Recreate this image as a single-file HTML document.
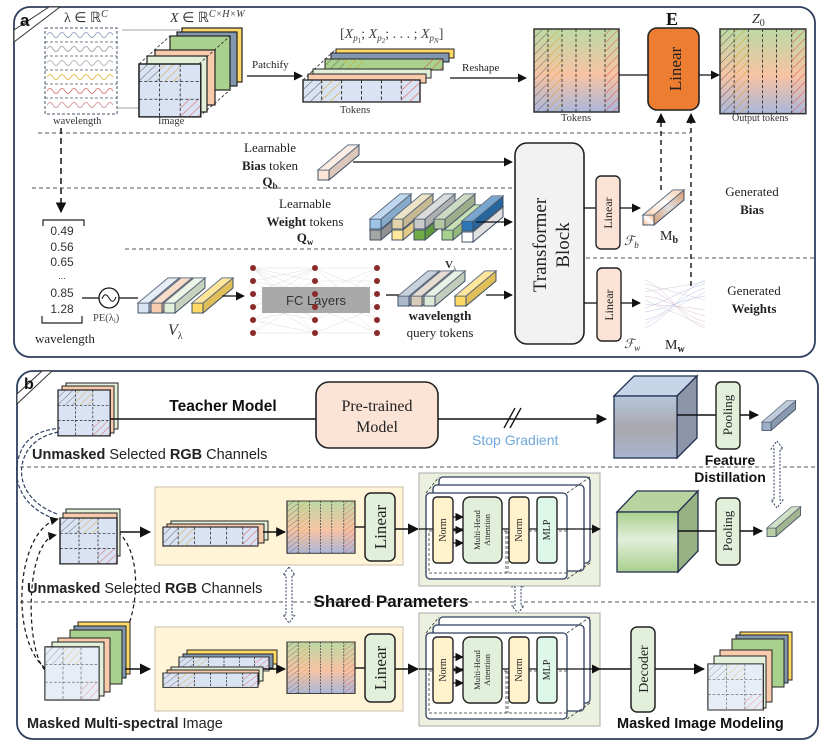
<!DOCTYPE html>
<html><head><meta charset="utf-8"><style>
html,body{margin:0;padding:0;background:#fff}
svg{display:block}
.s{font-family:"Liberation Serif",serif}
.a{font-family:"Liberation Sans",sans-serif}
</style></head><body>
<svg width="831" height="748" viewBox="0 0 831 748" xmlns="http://www.w3.org/2000/svg">
<defs>
<pattern id="hg" width="6" height="6" patternUnits="userSpaceOnUse" patternTransform="rotate(45)"><line x1="0" y1="0" x2="0" y2="6" stroke="#555" stroke-width="0.9"/></pattern>
<pattern id="hy" width="6" height="6" patternUnits="userSpaceOnUse" patternTransform="rotate(45)"><line x1="0" y1="0" x2="0" y2="6" stroke="#d4a017" stroke-width="0.9"/></pattern>
<pattern id="hr" width="6" height="6" patternUnits="userSpaceOnUse" patternTransform="rotate(45)"><line x1="0" y1="0" x2="0" y2="6" stroke="#e04848" stroke-width="0.9"/></pattern>
<linearGradient id="tg" x1="0" y1="0" x2="0" y2="1"><stop offset="0" stop-color="#bcd9a4"/><stop offset="0.55" stop-color="#f7c3a3"/><stop offset="1" stop-color="#aab7db"/></linearGradient>
<linearGradient id="cubeB" x1="0" y1="0" x2="0" y2="1"><stop offset="0" stop-color="#b4c6dc"/><stop offset="0.5" stop-color="#a8a8ac"/><stop offset="1" stop-color="#a9b4d0"/></linearGradient>
<linearGradient id="cubeG" x1="0" y1="0" x2="0" y2="1"><stop offset="0" stop-color="#a9d08e"/><stop offset="0.45" stop-color="#e2efda"/><stop offset="1" stop-color="#a9d08e"/></linearGradient>
<linearGradient id="orb" x1="0" y1="1" x2="1" y2="0"><stop offset="0" stop-color="#f4b183"/><stop offset="0.5" stop-color="#fff"/><stop offset="1" stop-color="#f4b183"/></linearGradient>
<marker id="ar" viewBox="0 0 10 10" refX="9" refY="5" markerWidth="7" markerHeight="7" orient="auto"><path d="M0,0L10,5L0,10z" fill="#111"/></marker>
<g id="tok">
<rect x="0" y="0" width="85" height="83" fill="url(#tg)"/>
<rect x="0" y="0" width="14" height="83" fill="url(#hg)"/>
<rect x="14" y="0" width="14" height="83" fill="url(#hy)"/>
<rect x="71" y="0" width="14" height="83" fill="url(#hr)"/>
<g stroke="#222" stroke-dasharray="3,2" stroke-width="0.8"><line x1="14" y1="0" x2="14" y2="83"/><line x1="28" y1="0" x2="28" y2="83"/><line x1="42" y1="0" x2="42" y2="83"/><line x1="56" y1="0" x2="56" y2="83"/><line x1="71" y1="0" x2="71" y2="83"/></g>
<rect x="0" y="0" width="85" height="83" fill="none" stroke="#333" stroke-width="1.5"/>
</g>
<g id="face">
<rect x="0" y="0" width="60" height="54" fill="#dae3f3" stroke="#222" stroke-width="1.3"/>
<rect x="0" y="0" width="20" height="18" fill="url(#hg)"/>
<rect x="20" y="0" width="20" height="18" fill="url(#hy)"/>
<rect x="40" y="36" width="20" height="18" fill="url(#hr)"/>
<g stroke="#222" stroke-dasharray="3,2" stroke-width="0.8"><line x1="20" y1="0" x2="20" y2="54"/><line x1="40" y1="0" x2="40" y2="54"/><line x1="0" y1="18" x2="60" y2="18"/><line x1="0" y1="36" x2="60" y2="36"/></g>
<rect x="0" y="0" width="60" height="54" fill="none" stroke="#222" stroke-width="1.3"/>
</g>
<g id="row">
<rect x="0" y="0" width="100" height="20" fill="#dae3f3" stroke="#222" stroke-width="1.2"/>
<rect x="0" y="0" width="16" height="20" fill="url(#hg)"/>
<rect x="16" y="0" width="16" height="20" fill="url(#hy)"/>
<rect x="84" y="0" width="16" height="20" fill="url(#hr)"/>
<g stroke="#222" stroke-dasharray="3,2" stroke-width="0.8"><line x1="16" y1="0" x2="16" y2="20"/><line x1="33" y1="0" x2="33" y2="20"/><line x1="50" y1="0" x2="50" y2="20"/><line x1="67" y1="0" x2="67" y2="20"/><line x1="84" y1="0" x2="84" y2="20"/></g>
</g>
<g id="bar" stroke="#44546a" stroke-width="1">
<polygon points="0,0 30,-25 41,-25 11,0"/>
<polygon points="11,0 41,-25 41,-15 11,10"/>
<rect x="0" y="0" width="11" height="10"/>
<polygon points="0,0 30,-25 41,-25 11,0" fill="#fff" fill-opacity="0.35" stroke="none"/>
<polygon points="11,0 41,-25 41,-15 11,10" fill="#000" fill-opacity="0.12" stroke="none"/>
</g>
<g id="tb">
<rect x="0" y="0" width="181" height="113" fill="#ebf1de" stroke="#aaa" stroke-width="1"/>
<rect x="20" y="4" width="151" height="86" rx="4" fill="#fff" stroke="#2f3f5f" stroke-width="1.3"/>
<rect x="14" y="12" width="151" height="86" rx="4" fill="#fff" stroke="#2f3f5f" stroke-width="1.3"/>
<rect x="7" y="20" width="141" height="86" rx="4" fill="#fff" stroke="#2f3f5f" stroke-width="1.3"/>
<g stroke="#333" stroke-dasharray="3,2" stroke-width="0.8" fill="none"><line x1="7" y1="20" x2="20" y2="4"/><line x1="148" y1="20" x2="171" y2="4"/><line x1="148" y1="106" x2="171" y2="90"/><rect x="10" y="58" width="138" height="42"/><line x1="87" y1="58" x2="87" y2="100"/><line x1="89" y1="58" x2="89" y2="100"/></g>
<line x1="0" y1="56" x2="181" y2="56" stroke="#111" stroke-width="1.3" marker-end="url(#ar)"/>
<rect x="14" y="24" width="20" height="66" rx="4" fill="#fff2cc" stroke="#222" stroke-width="1.4"/>
<rect x="44" y="24" width="39" height="66" rx="7" fill="#e2efda" stroke="#222" stroke-width="1.4"/>
<rect x="90" y="24" width="20" height="66" rx="4" fill="#fff2cc" stroke="#222" stroke-width="1.4"/>
<rect x="118" y="24" width="20" height="66" rx="4" fill="#ddf7e9" stroke="#222" stroke-width="1.4"/>
<g stroke="#111" stroke-width="1.2" marker-end="url(#ar)"><line x1="34" y1="44" x2="44" y2="44"/><line x1="34" y1="57" x2="44" y2="57"/><line x1="34" y1="70" x2="44" y2="70"/></g>
<g class="s" font-size="10" fill="#222" text-anchor="middle">
<text transform="translate(27,57) rotate(-90)">Norm</text>
<text transform="translate(61,57) rotate(-90)" font-size="8.5">Multi-Head</text>
<text transform="translate(71,57) rotate(-90)" font-size="8.5">Attention</text>
<text transform="translate(103,57) rotate(-90)">Norm</text>
<text transform="translate(131,57) rotate(-90)">MLP</text>
</g>
</g>
</defs>

<rect x="14" y="7" width="801" height="350" rx="16" fill="#fff" stroke="#2f3f5f" stroke-width="1.8"/>
<polygon points="14,42 14,30 49,7 60,7" fill="#fff" stroke="#333" stroke-width="1"/>
<text x="20" y="26" class="a" font-size="17" font-weight="bold" fill="#111">a</text>

<text x="64" y="22" class="s" font-size="14" fill="#333">λ ∈ ℝ<tspan dy="-5" font-size="10" font-style="italic">C</tspan></text>
<text x="170" y="22" class="s" font-size="14" font-style="italic" fill="#333">X <tspan font-style="normal">∈ ℝ</tspan><tspan dy="-5" font-size="10">C×H×W</tspan></text>
<rect x="45" y="28" width="72" height="86" fill="none" stroke="#44546a" stroke-dasharray="3,2"/>
<g stroke="#44546a" stroke-dasharray="3,2" stroke-width="0.8"><line x1="45" y1="42" x2="117" y2="42"/><line x1="45" y1="56" x2="117" y2="56"/><line x1="45" y1="70" x2="117" y2="70"/><line x1="45" y1="84" x2="117" y2="84"/><line x1="45" y1="98" x2="117" y2="98"/></g>
<g fill="none" stroke-width="0.8">
<path d="M47,35 q3,-5 6,0 t6,0 t6,0 t6,0 t6,0 t6,0 t6,0 t6,0 t6,0 t6,0 t6,0" stroke="#8497b0"/>
<path d="M47,49 q3,-5 6,0 t6,0 t6,0 t6,0 t6,0 t6,0 t6,0 t6,0 t6,0 t6,0 t6,0" stroke="#999"/>
<path d="M47,63 q3,-5 6,0 t6,0 t6,0 t6,0 t6,0 t6,0 t6,0 t6,0 t6,0 t6,0 t6,0" stroke="#a9a9a9"/>
<path d="M47,77 q3,-5 6,0 t6,0 t6,0 t6,0 t6,0 t6,0 t6,0 t6,0 t6,0 t6,0 t6,0" stroke="#e2b33a"/>
<path d="M47,91 q3,-5 6,0 t6,0 t6,0 t6,0 t6,0 t6,0 t6,0 t6,0 t6,0 t6,0 t6,0" stroke="#d06a6a"/>
<path d="M47,105 q3,-5 6,0 t6,0 t6,0 t6,0 t6,0 t6,0 t6,0 t6,0 t6,0 t6,0 t6,0" stroke="#d08a8a"/>
</g>
<text x="53" y="124" class="s" font-size="10.5" fill="#333">wavelength</text>
<line x1="122" y1="30" x2="180" y2="30" stroke="#888" stroke-width="0.7"/>
<line x1="118" y1="108" x2="139" y2="108" stroke="#888" stroke-width="0.7"/>
<rect x="182" y="28" width="60" height="54" fill="#ffd966" stroke="#222" stroke-width="1.2"/>
<rect x="177" y="32" width="60" height="54" fill="#8497b0" stroke="#222" stroke-width="1.2"/>
<rect x="170" y="36" width="60" height="54" fill="#a9d18e" stroke="#222" stroke-width="1.2"/>
<rect x="155" y="50" width="60" height="55" fill="#f8cbad" stroke="#222" stroke-width="1.2"/>
<rect x="147" y="56" width="60" height="56" fill="#e2f0d9" stroke="#222" stroke-width="1.2"/>
<g stroke="#222" stroke-dasharray="3,2" stroke-width="0.8"><line x1="139" y1="64" x2="170" y2="36"/><line x1="199" y1="64" x2="230" y2="36"/><line x1="199" y1="117" x2="230" y2="90"/></g>
<g transform="translate(139,64) scale(1.03,0.98)"><use href="#face"/></g>
<text x="158" y="124" class="s" font-size="10.5" fill="#333">Image</text>
<text x="252" y="68" class="s" font-size="11" fill="#222">Patchify</text>
<line x1="247" y1="76" x2="302" y2="76" stroke="#111" stroke-width="1.3" marker-end="url(#ar)"/>
<rect x="336" y="49" width="118" height="9" fill="#ffd966" stroke="#222"/>
<rect x="331" y="53" width="118" height="9" fill="#8497b0" stroke="#222"/>
<rect x="325" y="59" width="118" height="11" fill="#a9d18e" stroke="#222"/>
<rect x="325" y="59" width="19" height="11" fill="url(#hg)"/><rect x="344" y="59" width="19" height="11" fill="url(#hy)"/><rect x="424" y="59" width="19" height="11" fill="url(#hr)"/>
<rect x="313" y="69" width="118" height="9" fill="#e2f0d9" stroke="#222"/>
<rect x="308" y="74" width="118" height="9" fill="#f8cbad" stroke="#222"/>
<g stroke="#222" stroke-dasharray="3,2" stroke-width="0.8"><line x1="303" y1="80" x2="336" y2="49"/></g>
<g transform="translate(303,80) scale(1.17,1.1)"><use href="#row"/></g>
<text x="340" y="113" class="s" font-size="10.5" fill="#333">Tokens</text>
<text x="340" y="38" class="s" font-size="14" fill="#444">[<tspan font-style="italic">X</tspan><tspan font-size="9" dy="3" font-style="italic">p</tspan><tspan font-size="7" dy="2">1</tspan><tspan dy="-5">; </tspan><tspan font-style="italic">X</tspan><tspan font-size="9" dy="3" font-style="italic">p</tspan><tspan font-size="7" dy="2">2</tspan><tspan dy="-5">; . . . ; </tspan><tspan font-style="italic">X</tspan><tspan font-size="9" dy="3" font-style="italic">p</tspan><tspan font-size="7" dy="2" font-style="italic">N</tspan><tspan dy="-5">]</tspan></text>
<text x="462" y="71" class="s" font-size="11" fill="#222">Reshape</text>
<line x1="450" y1="78" x2="526" y2="78" stroke="#111" stroke-width="1.3" marker-end="url(#ar)"/>
<g transform="translate(534,29)"><use href="#tok"/></g>
<text x="561" y="121" class="s" font-size="10.5" fill="#333">Tokens</text>
<line x1="619" y1="75" x2="648" y2="75" stroke="#111" stroke-width="1.3"/>
<rect x="648" y="28" width="51" height="82" rx="9" fill="#ed7d31" stroke="#222" stroke-width="1.6"/>
<text transform="translate(681,69) rotate(-90)" text-anchor="middle" class="s" font-size="17" fill="#222">Linear</text>
<text x="666" y="25" class="s" font-size="18" font-weight="bold" fill="#111">E</text>
<line x1="699" y1="75" x2="719" y2="75" stroke="#111" stroke-width="1.3" marker-end="url(#ar)"/>
<g transform="translate(720,29) scale(1.01,1.02)"><use href="#tok"/></g>
<text x="752" y="23" class="s" font-size="14" font-style="italic" fill="#333">Z<tspan font-style="normal" font-size="10" dy="3">0</tspan></text>
<text x="732" y="121" class="s" font-size="10" fill="#333">Output tokens</text>

<g stroke="#555" stroke-dasharray="4,3" stroke-width="0.9">
<line x1="38" y1="133" x2="690" y2="133"/>
<line x1="32" y1="188" x2="512" y2="188"/>
<line x1="125" y1="249" x2="512" y2="249"/>
<line x1="586" y1="258" x2="814" y2="258"/>
</g>
<line x1="61" y1="128" x2="61" y2="212" stroke="#111" stroke-width="1.5" stroke-dasharray="6,4" marker-end="url(#ar)"/>
<text x="270" y="152" text-anchor="middle" class="s" font-size="13" fill="#222">Learnable</text>
<text x="270" y="170" text-anchor="middle" class="s" font-size="13" fill="#222"><tspan font-weight="bold">Bias</tspan> token</text>
<text x="270" y="186" text-anchor="middle" class="s" font-size="13" font-weight="bold" fill="#222">Q<tspan font-size="9" dy="3">b</tspan></text>
<g transform="translate(318,170)" fill="#fbe3d6"><use href="#bar"/></g>
<line x1="353" y1="162" x2="512" y2="162" stroke="#111" stroke-width="1.3" marker-end="url(#ar)"/>
<text x="305" y="208" text-anchor="middle" class="s" font-size="13" fill="#222">Learnable</text>
<text x="305" y="226" text-anchor="middle" class="s" font-size="13" fill="#222"><tspan font-weight="bold">Weight</tspan> tokens</text>
<text x="305" y="242" text-anchor="middle" class="s" font-size="13" font-weight="bold" fill="#222">Q<tspan font-size="9" dy="3">w</tspan></text>
<g transform="translate(370,230)" fill="#a5a5a5"><use href="#bar"/></g>
<g transform="translate(392,230)" fill="#ffe699"><use href="#bar"/></g>
<g transform="translate(414,230)" fill="#70ad47"><use href="#bar"/></g>
<g transform="translate(442,230)" fill="#a9d18e"><use href="#bar"/></g>
<g transform="translate(462,232)" fill="#ffffff"><use href="#bar"/></g>
<g transform="translate(370,219)" fill="#9dc3e6"><use href="#bar"/></g>
<g transform="translate(392,219)" fill="#e2d3a8"><use href="#bar"/></g>
<g transform="translate(414,219)" fill="#c9c9c9"><use href="#bar"/></g>
<g transform="translate(434,219)" fill="#b4c7a0"><use href="#bar"/></g>
<g transform="translate(462,221)" fill="#2e75b6"><use href="#bar"/></g>
<line x1="476" y1="222" x2="512" y2="222" stroke="#111" stroke-width="1.3" marker-end="url(#ar)"/>
<path d="M43,226 V220 H84 V226" fill="none" stroke="#222" stroke-width="1.2"/>
<g class="a" font-size="12" fill="#333" text-anchor="middle">
<text x="62" y="235">0.49</text><text x="62" y="251">0.56</text><text x="62" y="266">0.65</text><text x="62" y="279" font-size="9">...</text><text x="62" y="297">0.85</text><text x="62" y="313">1.28</text>
</g>
<path d="M42,316 V323 H82 V316" fill="none" stroke="#222" stroke-width="1.2"/>
<text x="35" y="343" class="s" font-size="13" fill="#222">wavelength</text>
<line x1="82" y1="298" x2="100" y2="298" stroke="#111" stroke-width="1.3"/>
<circle cx="109" cy="298" r="10" fill="#fff" stroke="#111" stroke-width="1.3"/>
<path d="M102,299 q3,-8 7,-1 t7,-1" fill="none" stroke="#111" stroke-width="1"/>
<line x1="119" y1="298" x2="138" y2="298" stroke="#111" stroke-width="1.3"/>
<text x="93" y="321" class="s" font-size="10.5" fill="#444">PE(λ<tspan font-size="7" dy="2">i</tspan><tspan dy="-2">)</tspan></text>
<g transform="translate(138,303)" fill="#dae3f3"><use href="#bar"/></g>
<g transform="translate(151,303)" fill="#f8cbad"><use href="#bar"/></g>
<g transform="translate(164,303)" fill="#e2f0d9"><use href="#bar"/></g>
<g transform="translate(192,303)" fill="#ffd966"><use href="#bar"/></g>
<line x1="222" y1="296" x2="244" y2="296" stroke="#111" stroke-width="1.3" marker-end="url(#ar)"/>
<text x="168" y="335" class="s" font-size="16" font-style="italic" fill="#333">V<tspan font-size="10" dy="4" font-style="normal">λ</tspan></text>
<g stroke="#ddd" stroke-width="0.5">
<path d="M253,268L315,268M253,268L315,281M253,268L315,294M253,268L315,307M253,268L315,320M253,268L315,333M253,281L315,268M253,281L315,294M253,281L315,320M253,294L315,268M253,294L315,307M253,294L315,333M253,307L315,268M253,307L315,281M253,307L315,320M253,320L315,281M253,320L315,307M253,320L315,333M253,333L315,268M253,333L315,294M253,333L315,333"/>
<path d="M315,268L377,268M315,268L377,294M315,268L377,320M315,281L377,281M315,281L377,307M315,281L377,333M315,294L377,268M315,294L377,320M315,307L377,281M315,307L377,333M315,320L377,268M315,320L377,294M315,333L377,307M315,333L377,333M315,294L377,294M315,307L377,307"/>
</g>
<rect x="262" y="287" width="108" height="26" fill="#a9a9a9"/>
<text x="316" y="305" text-anchor="middle" class="a" font-size="13" fill="#333">FC Layers</text>
<g fill="#8b2a2a">
<circle cx="253" cy="268" r="3"/><circle cx="253" cy="281" r="3"/><circle cx="253" cy="294" r="3"/><circle cx="253" cy="307" r="3"/><circle cx="253" cy="320" r="3"/><circle cx="253" cy="333" r="3"/>
<circle cx="315" cy="268" r="3"/><circle cx="315" cy="281" r="3"/><circle cx="315" cy="294" r="3"/><circle cx="315" cy="307" r="3"/><circle cx="315" cy="320" r="3"/><circle cx="315" cy="333" r="3"/>
<circle cx="377" cy="268" r="3"/><circle cx="377" cy="281" r="3"/><circle cx="377" cy="294" r="3"/><circle cx="377" cy="307" r="3"/><circle cx="377" cy="320" r="3"/><circle cx="377" cy="333" r="3"/>
</g>
<line x1="386" y1="295" x2="400" y2="295" stroke="#111" stroke-width="1.3"/>
<g transform="translate(398,296)" fill="#adb9ca"><use href="#bar"/></g>
<g transform="translate(411,296)" fill="#d9c9b8"><use href="#bar"/></g>
<g transform="translate(424,296)" fill="#dde8d6"><use href="#bar"/></g>
<g transform="translate(455,296)" fill="#ffd966"><use href="#bar"/></g>
<line x1="486" y1="295" x2="512" y2="295" stroke="#111" stroke-width="1.3" marker-end="url(#ar)"/>
<text x="445" y="268" class="s" font-size="11" font-weight="bold" fill="#333">V<tspan font-size="7" dy="3" font-weight="normal">λ</tspan></text>
<text x="440" y="320" text-anchor="middle" class="s" font-size="13" font-weight="bold" fill="#222">wavelength</text>
<text x="440" y="337" text-anchor="middle" class="s" font-size="13" fill="#222">query tokens</text>
<rect x="515" y="143" width="69" height="201" rx="12" fill="#f2f2f2" stroke="#222" stroke-width="1.6"/>
<text transform="translate(546,245) rotate(-90)" text-anchor="middle" class="s" font-size="19" fill="#222">Transformer</text>
<text transform="translate(569,245) rotate(-90)" text-anchor="middle" class="s" font-size="19" fill="#222">Block</text>
<line x1="584" y1="208" x2="596" y2="208" stroke="#111" stroke-width="1.3"/>
<rect x="596" y="176" width="24" height="73" rx="5" fill="#fbe3d6" stroke="#222" stroke-width="1.4"/>
<text transform="translate(612,213) rotate(-90)" text-anchor="middle" class="s" font-size="12" fill="#222">Linear</text>
<line x1="620" y1="208" x2="640" y2="208" stroke="#111" stroke-width="1.3" marker-end="url(#ar)"/>
<g transform="translate(643,215)" fill="url(#orb)"><use href="#bar"/></g>
<text x="624" y="245" class="s" font-size="13" font-style="italic" fill="#333">ℱ<tspan font-size="9" dy="3">b</tspan></text>
<text x="660" y="240" class="s" font-size="14" fill="#222">M<tspan font-size="10" dy="3" font-weight="bold">b</tspan></text>
<line x1="584" y1="303" x2="597" y2="303" stroke="#111" stroke-width="1.3"/>
<rect x="597" y="268" width="24" height="73" rx="5" fill="#fbe3d6" stroke="#222" stroke-width="1.4"/>
<text transform="translate(613,305) rotate(-90)" text-anchor="middle" class="s" font-size="12" fill="#222">Linear</text>
<line x1="621" y1="303" x2="640" y2="303" stroke="#111" stroke-width="1.3" marker-end="url(#ar)"/>
<g stroke-width="0.5" fill="none" opacity="0.7">
<path d="M645,280 C670,290 680,320 705,328 M645,288 C670,295 680,315 705,322 M645,296 C670,300 680,310 705,316 M645,304 C670,306 680,306 705,310" stroke="#c9a0b8"/>
<path d="M645,328 C670,318 680,290 705,280 M645,320 C670,314 680,296 705,288 M645,312 C670,308 680,300 705,296 M645,308 C670,300 680,290 705,284" stroke="#9aa8d8"/>
<path d="M645,284 L705,300 M645,324 L705,292 M645,300 L705,326 M645,292 L705,282" stroke="#b8b8d0"/>
</g>
<text x="665" y="349" class="s" font-size="14" fill="#222">M<tspan font-size="10" dy="3" font-weight="bold">w</tspan></text>
<text x="624" y="348" class="s" font-size="13" font-style="italic" fill="#333">ℱ<tspan font-size="9" dy="3">w</tspan></text>
<line x1="661" y1="190" x2="661" y2="114" stroke="#111" stroke-width="1.4" stroke-dasharray="5,4" marker-end="url(#ar)"/>
<line x1="691" y1="286" x2="691" y2="114" stroke="#111" stroke-width="1.4" stroke-dasharray="5,4" marker-end="url(#ar)"/>
<text x="752" y="196" text-anchor="middle" class="s" font-size="13" fill="#222">Generated</text>
<text x="752" y="214" text-anchor="middle" class="s" font-size="13" font-weight="bold" fill="#222">Bias</text>
<text x="754" y="295" text-anchor="middle" class="s" font-size="13" fill="#222">Generated</text>
<text x="754" y="313" text-anchor="middle" class="s" font-size="13" font-weight="bold" fill="#222">Weights</text>

<rect x="17" y="371" width="801" height="368" rx="16" fill="#fff" stroke="#2f3f5f" stroke-width="1.8"/>
<polygon points="17,404 17,394 42,371 52,371" fill="#fff" stroke="#333" stroke-width="1"/>
<text x="24" y="389" class="a" font-size="16" font-weight="bold" fill="#111">b</text>
<g stroke="#555" stroke-dasharray="4,3" stroke-width="0.9">
<line x1="20" y1="467" x2="816" y2="467"/>
<line x1="20" y1="602" x2="816" y2="602"/>
</g>
<rect x="66" y="383" width="52" height="46" fill="#e2f0d9" stroke="#222"/>
<rect x="62" y="386" width="52" height="47" fill="#f8cbad" stroke="#222"/>
<g transform="translate(58,390) scale(0.87,0.85)"><use href="#face"/></g>
<text x="32" y="459" class="a" font-size="14.5" fill="#222"><tspan font-weight="bold">Unmasked</tspan> Selected <tspan font-weight="bold">RGB</tspan> Channels</text>
<text x="223" y="411" text-anchor="middle" class="a" font-size="15.5" font-weight="bold" fill="#111">Teacher Model</text>
<line x1="110" y1="419" x2="316" y2="419" stroke="#111" stroke-width="1.5"/>
<rect x="316" y="382" width="122" height="66" rx="13" fill="#fbe3d6" stroke="#222" stroke-width="1.6"/>
<text x="377" y="411" text-anchor="middle" class="s" font-size="16" fill="#222">Pre-trained</text>
<text x="377" y="432" text-anchor="middle" class="s" font-size="16" fill="#222">Model</text>
<line x1="438" y1="419" x2="606" y2="419" stroke="#111" stroke-width="1.5" marker-end="url(#ar)"/>
<line x1="504" y1="428" x2="515" y2="408" stroke="#111" stroke-width="1.3"/>
<line x1="510" y1="428" x2="521" y2="408" stroke="#111" stroke-width="1.3"/>
<text x="472" y="445" class="a" font-size="14" fill="#6fa8dc">Stop Gradient</text>
<polygon points="614,396 634,376 697,376 677,396" fill="#c7d5e8" stroke="#222f4f" stroke-width="1.3"/>
<polygon points="677,396 697,376 697,438 677,458" fill="#8c96a8" stroke="#222f4f" stroke-width="1.3"/>
<rect x="614" y="396" width="63" height="62" fill="url(#cubeB)" stroke="#222f4f" stroke-width="1.3"/>
<line x1="677" y1="415" x2="716" y2="415" stroke="#111" stroke-width="1.4"/>
<rect x="716" y="382" width="24" height="67" rx="5" fill="#e2efda" stroke="#222" stroke-width="1.4"/>
<text transform="translate(732,415) rotate(-90)" text-anchor="middle" class="s" font-size="13" fill="#222">Pooling</text>
<line x1="740" y1="415" x2="758" y2="415" stroke="#111" stroke-width="1.4" marker-end="url(#ar)"/>
<g transform="translate(762,422) scale(0.82,0.85)" fill="#9dafc8"><use href="#bar"/></g>
<text x="730" y="465" text-anchor="middle" class="a" font-size="14" font-weight="bold" fill="#111">Feature</text>
<text x="730" y="482" text-anchor="middle" class="a" font-size="14" font-weight="bold" fill="#111">Distillation</text>
<g fill="#fff" stroke="#2f3f5f" stroke-width="1" stroke-dasharray="2,1.5">
<path d="M777,441 L783,449 L780,449 L780,500 L783,500 L777,508 L771,500 L774,500 L774,449 L771,449 Z"/>
<path d="M289,567 L295,575 L292,575 L292,615 L295,615 L289,623 L283,615 L286,615 L286,575 L283,575 Z"/>
<path d="M518,580 L524,587 L521,587 L521,606 L524,606 L518,613 L512,606 L515,606 L515,587 L512,587 Z"/>
</g>
<path d="M57,514 C20,500 15,470 28,450 C35,440 45,435 58,432" fill="none" stroke="#2f3f5f" stroke-width="1.2" stroke-dasharray="4,2"/>
<path d="M55,519 C15,505 10,470 23,447 C32,433 45,430 60,428" fill="none" stroke="#2f3f5f" stroke-width="1.2" stroke-dasharray="4,2"/>
<path d="M45,668 C10,640 15,530 58,519" fill="none" stroke="#111" stroke-width="1.2" stroke-dasharray="4,3" marker-end="url(#ar)"/>
<path d="M45,670 C25,650 25,540 56,535" fill="none" stroke="#111" stroke-width="1.2" stroke-dasharray="4,3" marker-end="url(#ar)"/>
<path d="M118,532 C150,560 135,650 100,660" fill="none" stroke="#111" stroke-width="1.2" stroke-dasharray="4,3"/>
<rect x="66" y="509" width="54" height="47" fill="#e2f0d9" stroke="#222"/>
<rect x="63" y="513" width="54" height="47" fill="#f8cbad" stroke="#222"/>
<g transform="translate(60,518) scale(0.95,0.85)"><use href="#face"/></g>
<line x1="120" y1="532" x2="150" y2="532" stroke="#111" stroke-width="1.6" marker-end="url(#ar)"/>
<text x="27" y="593" class="a" font-size="14.5" fill="#222"><tspan font-weight="bold">Unmasked</tspan> Selected <tspan font-weight="bold">RGB</tspan> Channels</text>
<text x="391" y="607" text-anchor="middle" class="a" font-size="17" font-weight="bold" fill="#111">Shared Parameters</text>
<rect x="155" y="487" width="248" height="78" fill="#fff4d6" stroke="#c8bfa8" stroke-width="1"/>
<rect x="171" y="521" width="97" height="19" fill="#e2f0d9" stroke="#222"/>
<rect x="167" y="524" width="97" height="19" fill="#f8cbad" stroke="#222"/>
<g transform="translate(163,527) scale(0.95,0.95)"><use href="#row"/></g>
<line x1="263" y1="532" x2="285" y2="532" stroke="#111" stroke-width="1.4" marker-end="url(#ar)"/>
<g transform="translate(287,501) scale(0.8,0.63)"><use href="#tok"/></g>
<line x1="355" y1="527" x2="365" y2="527" stroke="#111" stroke-width="1.4"/>
<rect x="365" y="493" width="30" height="68" rx="6" fill="#e2efda" stroke="#222" stroke-width="1.5"/>
<text transform="translate(386,527) rotate(-90)" text-anchor="middle" class="s" font-size="17" fill="#222">Linear</text>
<line x1="395" y1="529" x2="418" y2="529" stroke="#111" stroke-width="1.6" marker-end="url(#ar)"/>
<g transform="translate(419,473)"><use href="#tb"/></g>
<polygon points="617,512 637,491 698,491 678,512" fill="#b8d3a0" stroke="#222f4f" stroke-width="1.3"/>
<polygon points="678,512 698,491 698,551 678,572" fill="#98b284" stroke="#222f4f" stroke-width="1.3"/>
<rect x="617" y="512" width="61" height="60" fill="url(#cubeG)" stroke="#222f4f" stroke-width="1.3"/>
<line x1="678" y1="531" x2="716" y2="531" stroke="#111" stroke-width="1.4"/>
<rect x="716" y="498" width="24" height="67" rx="5" fill="#e2efda" stroke="#222" stroke-width="1.4"/>
<text transform="translate(732,531) rotate(-90)" text-anchor="middle" class="s" font-size="13" fill="#222">Pooling</text>
<line x1="740" y1="531" x2="762" y2="531" stroke="#111" stroke-width="1.4" marker-end="url(#ar)"/>
<g transform="translate(767,528) scale(0.82,0.85)" fill="#b8cfa5"><use href="#bar"/></g>
<rect x="78" y="622" width="52" height="52" fill="#ffd966" stroke="#222"/>
<rect x="74" y="626" width="52" height="52" fill="#8497b0" stroke="#222"/>
<rect x="70" y="630" width="52" height="54" fill="#a9d18e" stroke="#222"/>
<rect x="58" y="638" width="52" height="54" fill="#f8cbad" stroke="#222"/>
<rect x="52" y="642" width="52" height="54" fill="#e2f0d9" stroke="#222"/>
<g transform="translate(45,647) scale(0.9,0.98)"><use href="#face"/></g>
<rect x="45" y="647" width="54" height="53" fill="#fff" fill-opacity="0.35"/>
<line x1="125" y1="669" x2="150" y2="669" stroke="#111" stroke-width="1.6" marker-end="url(#ar)"/>
<text x="27" y="728" class="a" font-size="14.5" fill="#222"><tspan font-weight="bold">Masked Multi-spectral</tspan> Image</text>
<rect x="155" y="627" width="248" height="84" fill="#fff4d6" stroke="#c8bfa8" stroke-width="1"/>
<rect x="187" y="650" width="90" height="14" fill="#ffd966" stroke="#222"/>
<rect x="183" y="654" width="90" height="14" fill="#8497b0" stroke="#222"/>
<g transform="translate(179,657) scale(0.9,0.7)"><use href="#row"/></g>
<rect x="171" y="667" width="92" height="14" fill="#e2f0d9" stroke="#222"/>
<rect x="167" y="670" width="92" height="14" fill="#f8cbad" stroke="#222"/>
<g transform="translate(163,673) scale(0.95,0.72)"><use href="#row"/></g>
<line x1="263" y1="669" x2="285" y2="669" stroke="#111" stroke-width="1.4" marker-end="url(#ar)"/>
<g transform="translate(287,642) scale(0.8,0.62)"><use href="#tok"/></g>
<line x1="355" y1="668" x2="365" y2="668" stroke="#111" stroke-width="1.4"/>
<rect x="365" y="634" width="30" height="68" rx="6" fill="#e2efda" stroke="#222" stroke-width="1.5"/>
<text transform="translate(386,668) rotate(-90)" text-anchor="middle" class="s" font-size="17" fill="#222">Linear</text>
<line x1="395" y1="669" x2="418" y2="669" stroke="#111" stroke-width="1.6" marker-end="url(#ar)"/>
<g transform="translate(419,613)"><use href="#tb"/></g>
<line x1="600" y1="669" x2="631" y2="669" stroke="#111" stroke-width="1.5"/>
<rect x="631" y="627" width="24" height="85" rx="6" fill="#e2efda" stroke="#222" stroke-width="1.5"/>
<text transform="translate(648,669) rotate(-90)" text-anchor="middle" class="s" font-size="14" fill="#222">Decoder</text>
<line x1="655" y1="669" x2="704" y2="669" stroke="#111" stroke-width="1.6" marker-end="url(#ar)"/>
<rect x="740" y="632" width="52" height="48" fill="#ffd966" stroke="#222"/>
<rect x="736" y="635" width="52" height="48" fill="#8497b0" stroke="#222"/>
<rect x="732" y="639" width="52" height="48" fill="#a9d18e" stroke="#222"/>
<rect x="720" y="650" width="52" height="52" fill="#f8cbad" stroke="#222"/>
<rect x="714" y="656" width="52" height="52" fill="#e2f0d9" stroke="#222"/>
<g transform="translate(708,664) scale(0.92,0.85)"><use href="#face"/></g>
<rect x="708" y="664" width="55" height="46" fill="#fff" fill-opacity="0.35"/>
<text x="617" y="728" class="a" font-size="14.5" font-weight="bold" fill="#111">Masked Image Modeling</text>
</svg>
</body></html>
